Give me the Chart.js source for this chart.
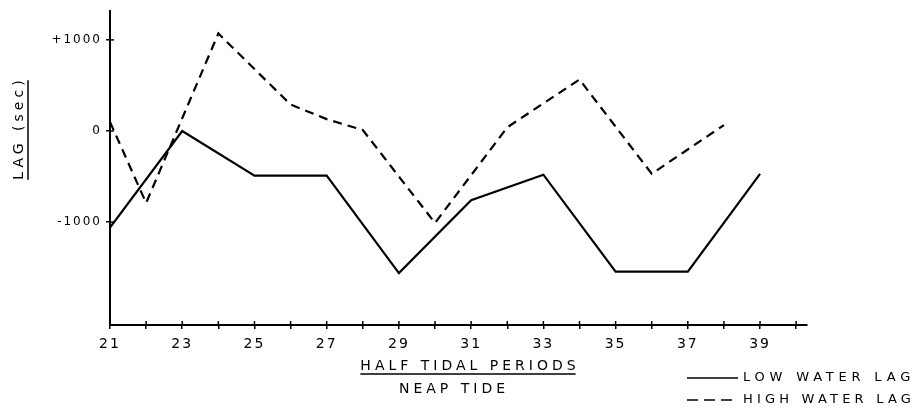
<!DOCTYPE html>
<html>
<head>
<meta charset="utf-8">
<script src="https://cdn.jsdelivr.net/npm/chart.js@4/dist/chart.umd.min.js"></script>
<style>
  html, body { margin: 0; padding: 0; background: #fff; }
  #wrap { width: 917px; height: 412px; position: relative; }
</style>
</head>
<body>
<div id="wrap"><canvas id="lagChart"></canvas></div>
<script>
// half tidal period numbers and lag in seconds
const lowX = [21, 23, 25, 27, 29, 31, 33, 35, 37, 39];
const lowY = [-1060, 0, -490, -490, -1560, -760, -480, -1545, -1545, -470];
const highX = [21, 22, 24, 26, 27, 28, 30, 32, 34, 36, 38];
const highY = [100, -790, 1070, 290, 130, 10, -1010, 40, 565, -470, 65];

const xTickLabels = ['21', '23', '25', '27', '29', '31', '33', '35', '37', '39'];
const yTicks = [-1000, 0, 1000];
const yTickLabels = ['-1000', '0', '+1000'];

const seriesNames = ['LOW WATER LAG', 'HIGH WATER LAG'];
const xTitle = 'HALF TIDAL PERIODS';
const xSubTitle = 'NEAP TIDE';
const yTitle = 'LAG (sec)';

const FONT = '"DejaVu Sans", sans-serif';

const toPoints = (xs, ys) => xs.map((x, i) => ({ x: x, y: ys[i] }));

function spacedText(ctx, text, x, y, spacing, align) {
    ctx.letterSpacing = spacing + 'px';
    const w = ctx.measureText(text).width - spacing;
    let left = x;
    if (align === 'center') left = x - w / 2;
    ctx.textAlign = 'left';
    ctx.fillText(text, left, y);
    return { left: left, width: w };
}

// small "+" ticks that cross the axes, like the original drawing
const crossTicks = {
    id: 'crossTicks',
    afterDatasetsDraw(chart) {
        const { ctx, chartArea, scales } = chart;
        ctx.save();
        ctx.strokeStyle = '#000';
        ctx.lineWidth = 1.5;
        scales.x.ticks.forEach(t => {
            const px = scales.x.getPixelForValue(t.value);
            ctx.beginPath();
            ctx.moveTo(px, chartArea.bottom);
            ctx.lineTo(px, chartArea.bottom - 4);
            ctx.stroke();
        });
        scales.y.ticks.forEach(t => {
            const py = scales.y.getPixelForValue(t.value);
            ctx.beginPath();
            ctx.moveTo(chartArea.left, py);
            ctx.lineTo(chartArea.left + 4, py);
            ctx.stroke();
        });
        ctx.restore();
    }
};

const spacing = {
    id: 'spacing',
    beforeDraw(chart) {
        chart.ctx.letterSpacing = '2px';
    }
};

const annotations = {
    id: 'annotations',
    afterDraw(chart) {
        const ctx = chart.ctx;
        ctx.save();
        ctx.fillStyle = '#000';
        ctx.strokeStyle = '#000';
        ctx.textBaseline = 'middle';
        ctx.font = '14px ' + FONT;

        // x title, underlined
        const t = spacedText(ctx, xTitle, 468, 366, 4, 'center');
        ctx.lineWidth = 1.5;
        ctx.beginPath();
        ctx.moveTo(t.left, 374);
        ctx.lineTo(t.left + t.width, 374);
        ctx.stroke();
        spacedText(ctx, xSubTitle, 452, 389, 4, 'center');

        // y title, rotated and underlined
        ctx.save();
        ctx.translate(19, 130);
        ctx.rotate(-Math.PI / 2);
        const yt = spacedText(ctx, yTitle, 0, 0, 4, 'center');
        ctx.beginPath();
        ctx.moveTo(yt.left, 9);
        ctx.lineTo(yt.left + yt.width, 9);
        ctx.stroke();
        ctx.restore();

        // legend, bottom right
        ctx.font = '13px ' + FONT;
        const gaps = [4.8, 4.2];
        chart.data.datasets.forEach((ds, i) => {
            const y = 378 + i * 22;
            ctx.save();
            ctx.lineWidth = 1.6;
            ctx.setLineDash(ds.borderDash ? [11, 6] : []);
            ctx.beginPath();
            ctx.moveTo(687, y);
            ctx.lineTo(738, y);
            ctx.stroke();
            ctx.restore();
            spacedText(ctx, ds.label, 743, y, gaps[i], 'left');
        });
        ctx.restore();
    }
};

new Chart(document.getElementById('lagChart'), {
    type: 'line',
    data: {
        datasets: [{
            label: seriesNames[0],
            data: toPoints(lowX, lowY),
            borderColor: '#000',
            borderWidth: 2.2,
            pointRadius: 0,
            tension: 0,
            fill: false
        }, {
            label: seriesNames[1],
            data: toPoints(highX, highY),
            borderColor: '#000',
            borderWidth: 2.2,
            borderDash: [9, 6],
            pointRadius: 0,
            tension: 0,
            fill: false
        }]
    },
    options: {
        responsive: true,
        maintainAspectRatio: false,
        animation: false,
        layout: { padding: { left: 0, top: 8, right: 110, bottom: 0 } },
        plugins: {
            legend: { display: false },
            tooltip: { enabled: false }
        },
        scales: {
            x: {
                type: 'linear',
                min: 21,
                max: 40.3,
                afterFit: s => { s.height = 87; },
                ticks: {
                    stepSize: 1,
                    includeBounds: false,
                    autoSkip: false,
                    maxRotation: 0,
                    padding: 7,
                    color: '#000',
                    font: { family: FONT, size: 14 },
                    callback: v => xTickLabels.includes(String(v)) ? String(v) : ''
                },
                grid: {
                    drawOnChartArea: false,
                    tickLength: 4,
                    color: '#000',
                    lineWidth: 1.5
                },
                border: { color: '#000', width: 2 }
            },
            y: {
                min: -2130,
                max: 1315,
                afterFit: s => { s.width = 110; },
                afterBuildTicks: s => { s.ticks = yTicks.map(v => ({ value: v })); },
                ticks: {
                    padding: 4,
                    color: '#000',
                    font: { family: FONT, size: 12 },
                    callback: v => yTickLabels[yTicks.indexOf(v)]
                },
                grid: {
                    drawOnChartArea: false,
                    tickLength: 4,
                    color: '#000',
                    lineWidth: 1.5
                },
                border: { color: '#000', width: 2 }
            }
        }
    },
    plugins: [spacing, crossTicks, annotations]
});
</script>
</body>
</html>
